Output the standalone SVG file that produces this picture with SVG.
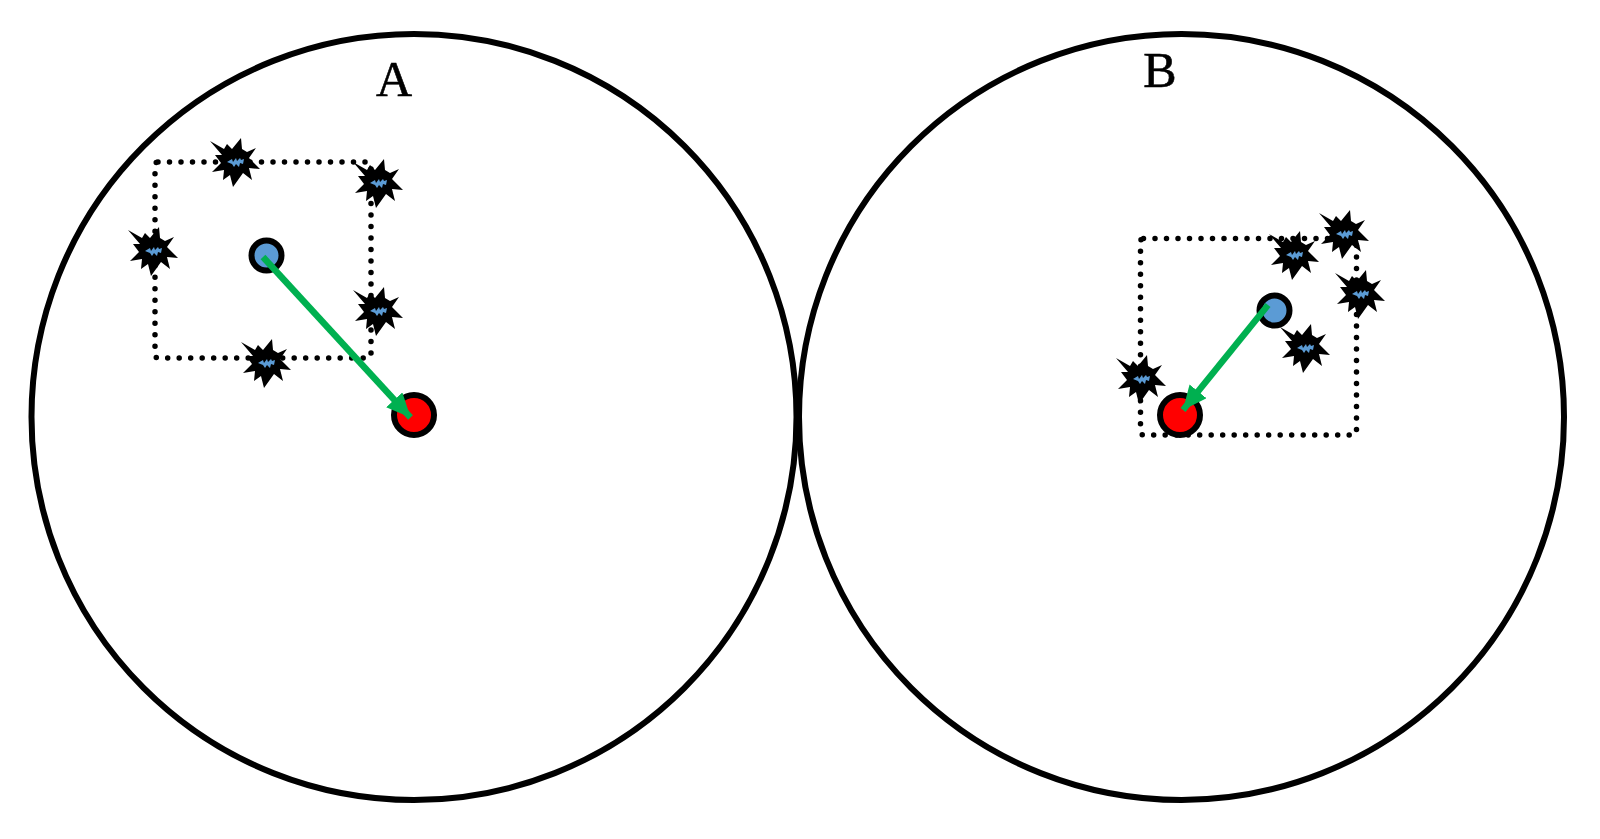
<svg xmlns="http://www.w3.org/2000/svg" width="1600" height="839" viewBox="0 0 1600 839">
<style>
.ring{fill:none;stroke:#000;stroke-width:6}
.box{fill:none;stroke:#000;stroke-width:5.5;stroke-linecap:round;stroke-dasharray:0 11.5}
.blue{fill:#5b9bd5;stroke:#000;stroke-width:6}
.red{fill:#f00;stroke:#000;stroke-width:6}
.arrow{fill:none;stroke:#00b050;stroke-width:6.5;marker-end:url(#head)}
.label{font-family:"Liberation Serif",serif;font-size:50px;fill:#000;stroke:#000;stroke-width:.6;text-anchor:middle}
</style>
<defs>
<marker id="head" markerUnits="userSpaceOnUse" markerWidth="26" markerHeight="24" refX="24" refY="11" orient="auto">
<path d="M0 0L24 11L0 22Z" fill="#00b050"/>
</marker>
<g id="star">
<polygon fill="#000" points="-25,-21 -11,-13 -8,-18 -3,-13 6,-24 7,-13 12,-10 21,-14 14,-4 25,7 14,6 17,18 8,11 -2,25 -5,13 -12,18 -11,8 -23,10 -14,1 -20,-7 -13,-7"/>
<path d="M-8,0L-3,-3L-2,0L1,-4L2,-1L5,-4L6,-2L9,-3L8,2L5,1L4,5L1,2L-1,5L-3,2Z" fill="#5b9bd5"/>
</g>
</defs>
<g id="circle-a"><ellipse class="ring" cx="414" cy="417" rx="382.500" ry="383"/></g>
<g id="circle-b"><ellipse class="ring" cx="1181.500" cy="417" rx="382.500" ry="383"/></g>
<text class="label" x="394" y="96">A</text>
<text class="label" x="1160" y="87">B</text>
<g id="box-a"><rect class="box" x="155" y="162" width="216" height="196" rx="3"/></g>
<g id="box-b"><rect class="box" x="1140.500" y="238.500" width="216" height="196.500" rx="3"/></g>
<g id="stars-a">
<use id="a1" href="#star" x="235" y="162"/>
<use id="a2" href="#star" x="378" y="183"/>
<use id="a3" href="#star" x="153" y="251"/>
<use id="a4" href="#star" x="378" y="311"/>
<use id="a5" href="#star" x="266" y="363"/>
</g>
<g id="stars-b">
<use id="b1" href="#star" x="1294" y="255"/>
<use id="b2" href="#star" x="1344" y="234"/>
<use id="b3" href="#star" x="1360" y="294"/>
<use id="b4" href="#star" x="1305" y="348"/>
<use id="b5" href="#star" x="1141" y="379"/>
</g>
<g id="node-blue-a"><circle class="blue" cx="266.500" cy="255.500" r="15"/></g>
<g id="node-red-a"><circle class="red" cx="414" cy="415" r="20"/></g>
<g id="node-blue-b"><circle class="blue" cx="1274.500" cy="310.500" r="15"/></g>
<g id="node-red-b"><circle class="red" cx="1180" cy="415" r="20"/></g>
<g id="connectors">
<line class="arrow" x1="263" y1="257" x2="410.500" y2="417.500"/>
<line class="arrow" x1="1268" y1="305" x2="1183" y2="410"/>
</g>
</svg>
